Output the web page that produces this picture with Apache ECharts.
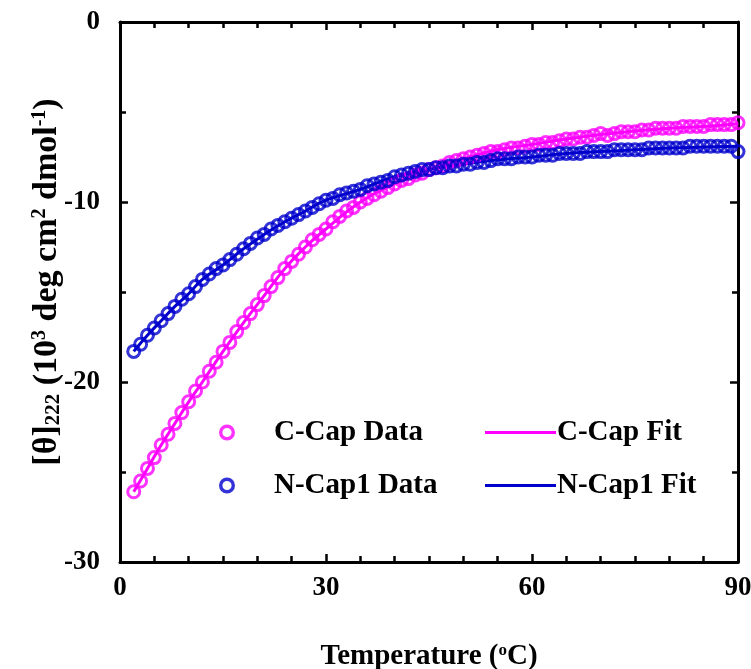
<!DOCTYPE html>
<html>
<head>
<meta charset="utf-8">
<script src="https://cdn.jsdelivr.net/npm/echarts@6/dist/echarts.min.js"></script>
<style>html,body{margin:0;padding:0;background:#fff;}#chart{width:751px;height:669px;}</style>
</head>
<body>
<div id="chart"></div>
<script>
// Temperatures (°C) of measured points
const temperature = [2,3,4,5,6,7,8,9,10,11,12,13,14,15,16,17,18,19,20,21,22,23,24,25,26,27,28,29,30,31,32,33,34,35,36,37,38,39,40,41,42,43,44,45,46,47,48,49,50,51,52,53,54,55,56,57,58,59,60,61,62,63,64,65,66,67,68,69,70,71,72,73,74,75,76,77,78,79,80,81,82,83,84,85,86,87,88,89,90];
// C-Cap data [θ]222 (10^3 deg cm2 dmol-1)
const cCapData = [-26.1,-25.5,-24.8,-24.2,-23.5,-22.9,-22.3,-21.7,-21.1,-20.5,-20.0,-19.4,-18.9,-18.3,-17.8,-17.2,-16.7,-16.2,-15.7,-15.2,-14.7,-14.2,-13.7,-13.3,-12.9,-12.5,-12.1,-11.8,-11.5,-11.1,-10.8,-10.5,-10.3,-10.0,-9.8,-9.6,-9.4,-9.2,-9.0,-8.8,-8.7,-8.5,-8.4,-8.2,-8.1,-8.0,-7.8,-7.7,-7.6,-7.5,-7.4,-7.3,-7.2,-7.2,-7.1,-7.0,-7.0,-6.9,-6.8,-6.8,-6.7,-6.7,-6.6,-6.5,-6.5,-6.4,-6.4,-6.3,-6.2,-6.3,-6.2,-6.1,-6.1,-6.1,-6.0,-6.0,-5.9,-5.9,-5.9,-5.9,-5.8,-5.8,-5.8,-5.8,-5.7,-5.7,-5.7,-5.7,-5.6];
// N-Cap1 data
const nCap1Data = [-18.3,-17.9,-17.4,-17.0,-16.6,-16.2,-15.8,-15.4,-15.1,-14.7,-14.3,-14.0,-13.7,-13.5,-13.2,-12.9,-12.6,-12.3,-12.0,-11.8,-11.5,-11.3,-11.1,-10.9,-10.7,-10.5,-10.3,-10.1,-9.9,-9.8,-9.6,-9.5,-9.4,-9.3,-9.1,-9.0,-8.9,-8.8,-8.6,-8.5,-8.4,-8.3,-8.2,-8.2,-8.1,-8.1,-8.0,-8.0,-7.9,-7.9,-7.8,-7.8,-7.7,-7.6,-7.6,-7.6,-7.5,-7.5,-7.5,-7.4,-7.4,-7.4,-7.3,-7.3,-7.3,-7.3,-7.2,-7.2,-7.2,-7.2,-7.1,-7.1,-7.1,-7.1,-7.1,-7.0,-7.0,-7.0,-7.0,-7.0,-7.0,-6.9,-6.9,-6.9,-6.9,-6.9,-6.9,-6.9,-7.2];
// Fit curves
const fitTemperature = [2,4,6,8,10,12,15,18,21,24,27,30,35,40,45,50,55,60,65,70,75,80,85,90];
const cCapFit = [-26.1,-24.8,-23.5,-22.3,-21.1,-20.0,-18.3,-16.7,-15.2,-13.7,-12.5,-11.5,-10.0,-9.0,-8.2,-7.6,-7.1,-6.8,-6.5,-6.25,-6.05,-5.9,-5.8,-5.65];
const nCap1Fit = [-18.3,-17.4,-16.6,-15.8,-15.1,-14.3,-13.5,-12.6,-11.8,-11.1,-10.5,-9.9,-9.3,-8.6,-8.2,-7.9,-7.65,-7.5,-7.3,-7.2,-7.1,-7.0,-6.95,-6.9];
const xTicks = [0,30,60,90];
const yTicks = [-30,-20,-10,0];

const PINK = '#FF00FF', BLUE = '#0000CD';
const FONT = '"Liberation Serif","Times New Roman",serif';
const RING = 'path://M0,-8A8,8 0 1,1 0,8A8,8 0 1,1 0,-8ZM0,-4.6A4.6,4.6 0 1,0 0,4.6A4.6,4.6 0 1,0 0,-4.6Z';
const pair = (xs, ys) => xs.map((x, i) => [x, ys[i]]);

const axisLine = () => ({show: true, onZero: false, lineStyle: {color: '#000', width: 3}});
const tick = () => ({show: true, inside: true, length: 8, lineStyle: {color: '#000', width: 2.5}});
const minor = (n) => ({show: true, splitNumber: n, length: 6, lineStyle: {color: '#000', width: 2.5}});
const lab = (m) => ({show: true, margin: m, fontFamily: FONT, fontWeight: 'bold', fontSize: 27, color: '#000'});

function xAxisDef(pos, showLabel) {
  const a = {
    type: 'value', min: xTicks[0], max: xTicks[xTicks.length - 1], interval: 30, position: pos,
    axisLine: axisLine(), axisTick: tick(), minorTick: minor(6), splitLine: {show: false},
    axisLabel: showLabel ? lab(13) : {show: false}
  };
  if (showLabel) {
    a.name = 'Temperature ({sup|o}C)';
    a.nameLocation = 'middle';
    a.nameGap = 80;
    a.nameMoveOverlap = false;
    a.nameTextStyle = {fontFamily: FONT, fontWeight: 'bold', fontSize: 29, color: '#000',
      rich: {sup: {fontFamily: FONT, fontWeight: 'bold', fontSize: 17, color: '#000', verticalAlign: 'top', padding: [0, 0, 11, 0]}}};
  }
  return a;
}
function yAxisDef(pos, showLabel) {
  const a = {
    type: 'value', min: yTicks[0], max: yTicks[yTicks.length - 1], interval: 10, position: pos,
    axisLine: axisLine(), axisTick: tick(), minorTick: minor(2), splitLine: {show: false},
    axisLabel: showLabel ? lab(20) : {show: false}
  };
  if (showLabel) {
    a.name = '[θ]{sub|222} (10{sup|3} deg cm{sup|2} dmol{sup|-1})';
    a.nameLocation = 'middle';
    a.nameGap = 56;
    a.nameMoveOverlap = false;
    a.nameTextStyle = {fontFamily: FONT, fontWeight: 'bold', fontSize: 34, color: '#000', padding: [0, 0, 0, 20],
      rich: {
        sub: {fontFamily: FONT, fontWeight: 'bold', fontSize: 21, color: '#000', verticalAlign: 'bottom', padding: [11, 0, 0, 0]},
        sup: {fontFamily: FONT, fontWeight: 'bold', fontSize: 20, color: '#000', verticalAlign: 'top', padding: [0, 0, 13, 0]}
      }};
  }
  return a;
}

const chart = echarts.init(document.getElementById('chart'), null, {renderer: 'canvas'});
const option = {
  backgroundColor: '#fff',
  animation: false,
  grid: {left: 120, right: 13, top: 22, bottom: 107, outerBoundsMode: 'none', containLabel: false},
  xAxis: [xAxisDef('bottom', true), xAxisDef('top', false)],
  yAxis: [yAxisDef('left', true), yAxisDef('right', false)],
  legend: [{
    orient: 'vertical', left: 214, top: 413, itemGap: 24, itemWidth: 16, itemHeight: 16,
    data: [
      {name: 'C-Cap Data', icon: RING, itemStyle: {color: PINK, borderWidth: 0}},
      {name: 'N-Cap1 Data', icon: RING, itemStyle: {color: BLUE, borderWidth: 0}}
    ],
    textStyle: {fontFamily: FONT, fontWeight: 'bold', fontSize: 29, color: '#000', padding: [0, 0, 0, 34]}
  }, {
    orient: 'vertical', left: 480, top: 413, itemGap: 24, itemWidth: 71, itemHeight: 16,
    data: [
      {name: 'C-Cap Fit', icon: 'path://M0,0H100V4H0Z', itemStyle: {color: PINK, borderWidth: 0}},
      {name: 'N-Cap1 Fit', icon: 'path://M0,0H100V4H0Z', itemStyle: {color: BLUE, borderWidth: 0}}
    ],
    textStyle: {fontFamily: FONT, fontWeight: 'bold', fontSize: 29, color: '#000', padding: [0, 0, 0, -4]}
  }],
  series: [
    {name: 'C-Cap Fit', type: 'line', data: pair(fitTemperature, cCapFit), smooth: true, showSymbol: false, symbol: 'none',
      lineStyle: {color: PINK, width: 3}, itemStyle: {color: PINK}, z: 2},
    {name: 'N-Cap1 Fit', type: 'line', data: pair(fitTemperature, nCap1Fit), smooth: true, showSymbol: false, symbol: 'none',
      lineStyle: {color: BLUE, width: 3}, itemStyle: {color: BLUE}, z: 2},
    {name: 'C-Cap Data', type: 'scatter', data: pair(temperature, cCapData), symbol: 'circle', symbolSize: 12,
      itemStyle: {color: 'rgba(255,255,255,0)', borderColor: PINK, borderWidth: 3}, z: 3},
    {name: 'N-Cap1 Data', type: 'scatter', data: pair(temperature, nCap1Data), symbol: 'circle', symbolSize: 12,
      itemStyle: {color: 'rgba(255,255,255,0)', borderColor: BLUE, borderWidth: 3}, z: 4}
  ]
};
chart.setOption(option);
</script>
</body>
</html>
